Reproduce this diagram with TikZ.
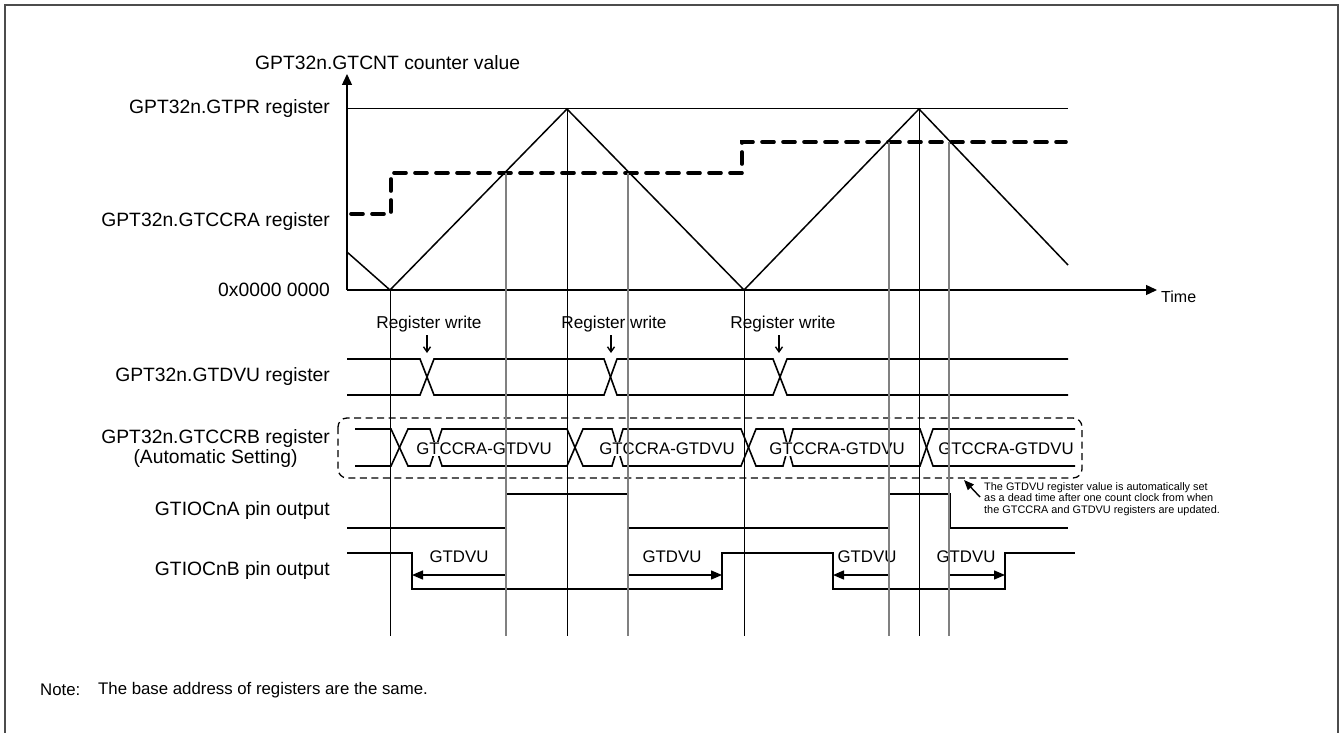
\documentclass[tikz,border=0pt]{standalone}
\usepackage{fontspec}
\setmainfont{Liberation Sans}
\usetikzlibrary{arrows.meta}
\begin{document}
\begin{tikzpicture}[x=1pt,y=-1pt,
  lbl/.style={font=\fontsize{16.8}{19}\selectfont, inner sep=0pt},
  side/.style={font=\fontsize{19.3}{21}\selectfont, inner sep=0pt},
  small/.style={font=\fontsize{10.9}{11.6}\selectfont, inner sep=0pt, align=left},
  sig/.style={line width=1.8pt, line join=miter},
  tri/.style={line width=1.5pt},
  busline/.style={line width=1.6pt},
  blkv/.style={line width=0.9pt, black},
  gryv/.style={line width=1.2pt, color=black!50},
  axis/.style={line width=1.3pt, -{Triangle[length=11pt,width=10pt]}},
  dimarrow/.style={line width=1.4pt, -{Triangle[length=11pt,width=9pt]}},
  wrarrow/.style={line width=1.4pt, -{Straight Barb[length=5pt,width=7pt]}},
  frame/.style={line width=2pt, color=black!70},
  cmpline/.style={line width=3.6pt, dash pattern=on 12pt off 9pt, line cap=round},
  dbox/.style={line width=1.3pt, dash pattern=on 7pt off 4.5pt, rounded corners=9pt}
]
\useasboundingbox (0,0) rectangle (1343,733);
% frame
\draw[frame] (5,740) -- (5,5) -- (1338,5) -- (1338,740);

% axes
\coordinate (O) at (347,290);
\coordinate (ytop) at (347,74);
\coordinate (xend) at (1157,290);
\draw[axis] (O) -- (ytop);
\draw[axis] (O) -- (xend);
\node[side, anchor=west] (ylab) at (255,63) {GPT32n.GTCNT counter value};
\node[lbl, font=\fontsize{16}{19}\selectfont, anchor=west] (tlab) at (1161,297) {Time};

% GTPR line
\coordinate (pr0) at (347,109);
\coordinate (pr1) at (1068,109);
\draw[line width=1pt] (pr0) -- (pr1);

% left labels
\node[side, anchor=east] (lpr) at (330,109) {GPT32n.GTPR register};
\node[side, anchor=east] (lcca) at (330,222) {GPT32n.GTCCRA register};
\node[side, anchor=east] (lzero) at (330,290) {0x0000 0000};
\node[side, anchor=east] (ldvu) at (330,377) {GPT32n.GTDVU register};
\node[side, anchor=east, align=center, font=\fontsize{19.3}{20}\selectfont] (lccb) at (330,449) {GPT32n.GTCCRB register\\(Automatic Setting)};
\node[side, anchor=east] (lioa) at (330,511) {GTIOCnA pin output};
\node[side, anchor=east] (liob) at (330,571) {GTIOCnB pin output};

% triangle counter
\draw[tri, line join=miter] (347,252) -- (390,290) -- (567,109) -- (744,290) -- (919,109) -- (1068,265);

% GTCCRA compare (dashed)
\draw[cmpline] (351,214) -- (391,214) -- (391,173) -- (742,173) -- (742,142) -- (1066,142);

% Register write labels and arrows
\node[lbl, font=\fontsize{17.2}{19}\selectfont] (rw1) at (429,324) {Register write};
\node[lbl, font=\fontsize{17.2}{19}\selectfont] (rw2) at (614,324) {Register write};
\node[lbl, font=\fontsize{17.2}{19}\selectfont] (rw3) at (783,324) {Register write};
\draw[wrarrow] (427,335) -- (427,353);
\draw[wrarrow] (611,335) -- (611,353);
\draw[wrarrow] (779,335) -- (779,353);

% GTDVU bus
\draw[busline] (347,359) -- (420,359) -- (434,395) -- (604,395) -- (617,359) -- (773,359) -- (787,395) -- (1068,395);
\draw[busline] (347,395) -- (420,395) -- (434,359) -- (604,359) -- (617,395) -- (773,395) -- (787,359) -- (1068,359);

% GTCCRB bus
\draw[busline] (355,429) -- (391,429) -- (408,466) -- (430,466) -- (442,429) -- (567,429) -- (583,466) -- (612,466) -- (623,429) -- (741,429) -- (756,466) -- (783,466) -- (793,429) -- (920,429) -- (933,466) -- (1075,466);
\draw[busline] (355,466) -- (391,466) -- (408,429) -- (430,429) -- (442,466) -- (567,466) -- (583,429) -- (612,429) -- (623,466) -- (741,466) -- (756,429) -- (783,429) -- (793,466) -- (920,466) -- (933,429) -- (1075,429);
\node[lbl, fill=white, inner sep=1pt] (cb1) at (484,449) {GTCCRA-GTDVU};
\node[lbl, fill=white, inner sep=1pt] (cb2) at (667,449) {GTCCRA-GTDVU};
\node[lbl, fill=white, inner sep=1pt] (cb3) at (837,449) {GTCCRA-GTDVU};
\node[lbl, fill=white, inner sep=1pt] (cb4) at (1006,449) {GTCCRA-GTDVU};
\draw[dbox] (338,418) rectangle (1082,478);

% annotation
\coordinate (annT) at (964,480);
\coordinate (annS) at (980,497);
\draw[line width=1.4pt, -{Triangle[length=10pt,width=8pt]}] (annS) -- (annT);
\node[small, anchor=north west] (ann) at (984,482) {The GTDVU register value is automatically set\\as a dead time after one count clock from when\\the GTCCRA and GTDVU registers are updated.};

% GTIOCnA
\draw[sig] (347,528) -- (506,528) -- (506,494) -- (628,494) -- (628,528) -- (889,528) -- (889,494) -- (950,494) -- (950,528) -- (1068,528);
% GTIOCnB
\draw[sig] (347,553) -- (412,553) -- (412,589) -- (722,589) -- (722,553) -- (833,553) -- (833,589) -- (1005,589) -- (1005,553) -- (1075,553);

% dead time arrows
\draw[dimarrow] (506,575) -- (412,575);
\draw[dimarrow] (628,575) -- (722,575);
\draw[dimarrow] (889,575) -- (833,575);
\draw[dimarrow] (949,575) -- (1005,575);
\node[lbl] (dv1) at (459,557) {GTDVU};
\node[lbl] (dv2) at (672,557) {GTDVU};
\node[lbl] (dv3) at (867,557) {GTDVU};
\node[lbl] (dv4) at (966,557) {GTDVU};

% vertical reference lines
\draw[blkv] (390,290) -- (390,636);
\draw[gryv] (506,173) -- (506,636);
\draw[blkv] (567,109) -- (567,636);
\draw[gryv] (628,173) -- (628,636);
\draw[blkv] (744,290) -- (744,636);
\draw[gryv] (889,142) -- (889,636);
\draw[blkv] (919,109) -- (919,636);
\draw[gryv] (949,142) -- (949,636);

% note
\node[lbl, anchor=west] (note) at (40,690) {Note:};
\node[lbl, anchor=west] (notetxt) at (98,690) {The base address of registers are the same.};
\end{tikzpicture}
\end{document}
